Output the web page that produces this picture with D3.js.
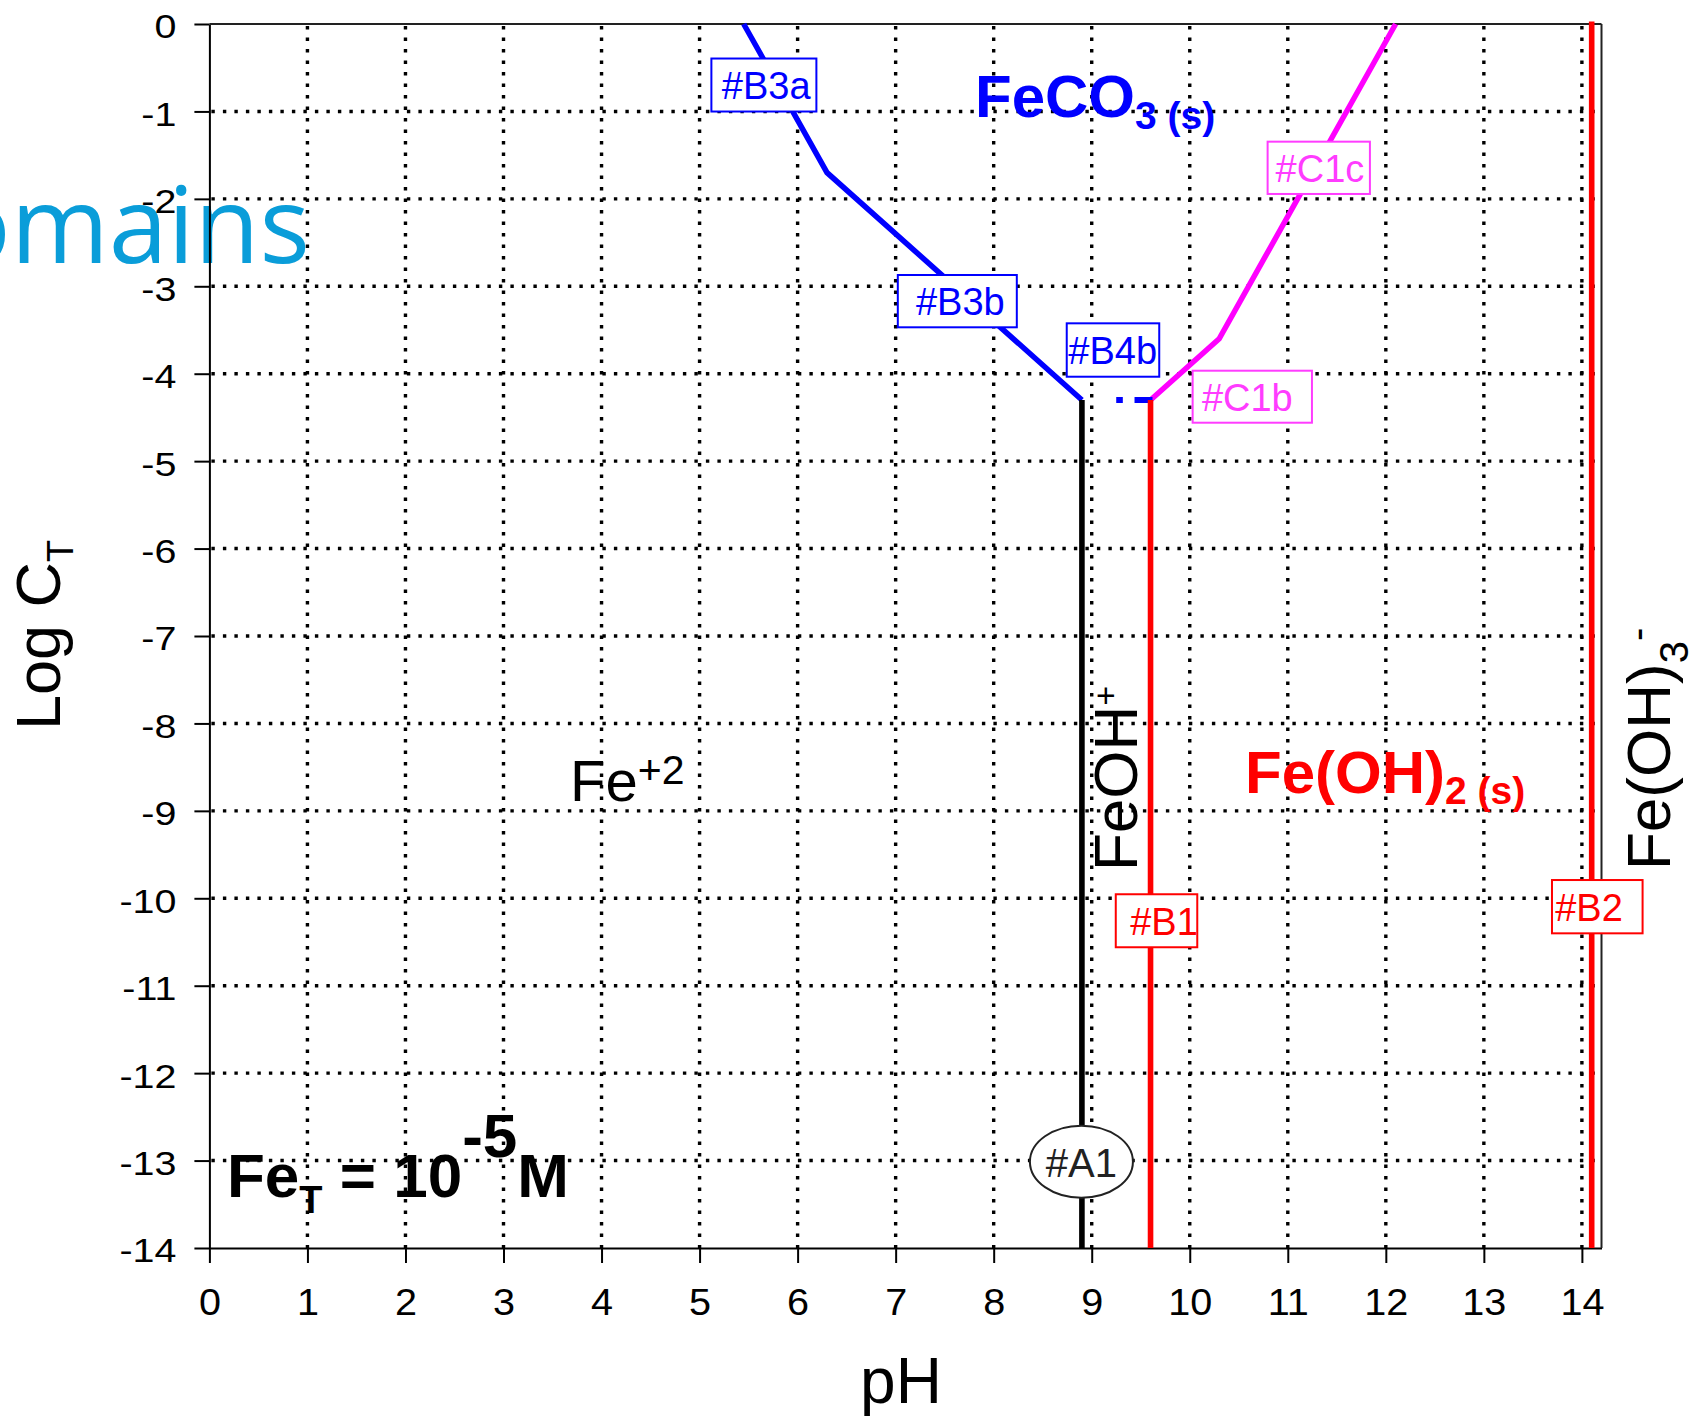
<!DOCTYPE html>
<html>
<head>
<meta charset="utf-8">
<script src="https://cdn.jsdelivr.net/npm/d3@7"></script>
<style>
  html, body { margin: 0; padding: 0; background: #fff; }
  svg { display: block; }
  text { font-family: "Liberation Sans", Arial, Helvetica, sans-serif; }
</style>
</head>
<body>
<svg id="chart" width="1695" height="1417"></svg>
<script>
// ---- axis ticks ----
const phTicks = d3.range(0, 15);          // 0 … 14
const logTicks = d3.range(-14, 1);        // -14 … 0

// ---- boundary lines (pH, log C_T) ----
// FeCO3(s) against Fe+2 / FeOH+  (#B3a, #B3b)
const carbonatePH  = [5.45, 6.3, 8.9];
const carbonateLog = [0, -1.7, -4.3];
// FeCO3(s) against Fe(OH)2(s)  (#C1b, #C1c)
const hydroxidePH  = [9.6, 10.3, 12.1];
const hydroxideLog = [-4.3, -3.6, 0];
// #B4b short dashed segment
const b4bPH  = [9.25, 9.62];
const b4bLog = [-4.3, -4.3];
// vertical boundaries: #A1 (Fe+2/FeOH+), #B1, #B2
const verticalPH  = [8.9, 9.6, 14.1];
const verticalTop = [-4.3, -4.3, 0];

// ---- boundary tags (centre in pH, log C_T) ----
const tagNames = ["#B3a", "#B3b", "#B4b", "#C1c", "#C1b", "#B1", "#B2"];
const tagPH    = [5.656, 7.629, 9.217, 11.316, 10.638, 9.661, 14.157];
const tagLog   = [-0.698, -3.170, -3.729, -1.645, -4.263, -10.257, -10.096];
const a1PH = 8.895, a1Log = -13.013;

// ---------------------------------------------------------------
const svg = d3.select("#chart");
const x = d3.scaleLinear().domain([0, 14.2]).range([209.4, 1601.5]);
const y = d3.scaleLinear().domain([-14, 0]).range([1248, 24]);

// dotted grid
const grid = svg.append("g").attr("stroke", "#000")
  .attr("stroke-width", 3.4).attr("stroke-dasharray", "3.4 8.1");
grid.selectAll(".vg").data(phTicks.filter(d => d > 0)).join("line")
  .attr("x1", d => x(d)).attr("x2", d => x(d))
  .attr("y1", y(0) + 2).attr("y2", y(-14));
grid.selectAll(".hg").data(logTicks.filter(d => d > -14 && d < 0)).join("line")
  .attr("y1", d => y(d)).attr("y2", d => y(d))
  .attr("x1", x(0) + 2).attr("x2", x(14.2));

// big heading fragment at the left edge
svg.append("text")
  .attr("x", 310).attr("y", 263)
  .attr("text-anchor", "end")
  .style("font-family", "'Open Sans', 'Noto Sans', sans-serif")
  .style("font-size", "106px")
  .attr("fill", "#0a9dd9")
  .text("Domains");

// axes
const xAxis = d3.axisBottom(x).tickValues(phTicks).tickSize(15).tickSizeOuter(0)
  .tickFormat(d => String(d));
const gx = svg.append("g").attr("transform", `translate(0,${y(-14)})`).call(xAxis);
gx.selectAll("text")
  .attr("y", 67).attr("dy", null)
  .attr("transform", "scale(1.07,1)")
  .style("font-size", "37px").attr("fill", "#000");

const yAxis = d3.axisLeft(y).tickValues(logTicks).tickSize(15).tickSizeOuter(0)
  .tickFormat(d => String(d));
const gy = svg.append("g").attr("transform", `translate(${x(0)},0)`).call(yAxis);
gy.selectAll("text")
  .attr("x", 0).attr("dy", "0.41em")
  .attr("transform", "translate(-33,0) scale(1.16,1)")
  .style("font-size", "34px").attr("fill", "#000");

[gx, gy].forEach(g => {
  g.select(".domain").attr("stroke", "#000").attr("stroke-width", 2);
  g.selectAll(".tick line").attr("stroke", "#000").attr("stroke-width", 2);
  g.attr("font-family", null).attr("font-size", null);
});

// top and right frame
svg.append("line").attr("x1", x(0)).attr("x2", x(14.2)).attr("y1", y(0)).attr("y2", y(0))
  .attr("stroke", "#222").attr("stroke-width", 2);
svg.append("line").attr("x1", x(14.2)).attr("x2", x(14.2)).attr("y1", y(0)).attr("y2", y(-14))
  .attr("stroke", "#222").attr("stroke-width", 2);

// boundary lines
const line = d3.line().x(d => x(d[0])).y(d => y(d[1]));
svg.append("path").datum(d3.zip(carbonatePH, carbonateLog))
  .attr("d", line).attr("fill", "none").attr("stroke", "#0000ff").attr("stroke-width", 5.5);
svg.append("path").datum(d3.zip(hydroxidePH, hydroxideLog))
  .attr("d", line).attr("fill", "none").attr("stroke", "#ff00ff").attr("stroke-width", 5.5);
svg.append("path").datum(d3.zip(b4bPH, b4bLog))
  .attr("d", line).attr("fill", "none").attr("stroke", "#0000ff").attr("stroke-width", 6)
  .attr("stroke-dasharray", "6.6 11.7 20");

const vColors = ["#000000", "#ff0000", "#ff0000"];
svg.selectAll(".vb").data(d3.zip(verticalPH, verticalTop)).join("line")
  .attr("x1", d => x(d[0])).attr("x2", d => x(d[0]))
  .attr("y1", d => y(d[1]) - (d[1] === 0 ? 2.5 : 0)).attr("y2", y(-14))
  .attr("stroke", (d, i) => vColors[i]).attr("stroke-width", 5.6);

// boundary tags
const tagW  = [105, 119, 92.5, 102.3, 119.3, 81.5, 90.6];
const tagH  = [53, 52.3, 53.4, 52.3, 52, 53, 53.3];
const tagDx = [2.3, 3, -0.3, 1.2, -5, 7.5, -8.3];
const tagColor = ["#0000ff", "#0000ff", "#0000ff", "#ff3cff", "#ff3cff", "#ff0000", "#ff0000"];
const tags = svg.selectAll(".tag").data(tagNames).join("g")
  .attr("transform", (d, i) => `translate(${x(tagPH[i])},${y(tagLog[i])})`);
tags.append("rect")
  .attr("x", (d, i) => -tagW[i] / 2).attr("y", (d, i) => -tagH[i] / 2)
  .attr("width", (d, i) => tagW[i]).attr("height", (d, i) => tagH[i])
  .attr("fill", "#fff").attr("stroke", (d, i) => tagColor[i]).attr("stroke-width", 2);
tags.append("text")
  .attr("x", (d, i) => tagDx[i]).attr("y", 14)
  .attr("text-anchor", "middle").style("font-size", "38px")
  .attr("fill", (d, i) => tagColor[i]).text(d => d);

const a1 = svg.append("g").attr("transform", `translate(${x(a1PH)},${y(a1Log)})`);
a1.append("ellipse").attr("rx", 51.5).attr("ry", 36)
  .attr("fill", "#fff").attr("stroke", "#222").attr("stroke-width", 2);
a1.append("text").attr("y", 15).attr("text-anchor", "middle")
  .style("font-size", "40px").attr("fill", "#222").text("#A1");

// species labels
const fe2 = svg.append("text").attr("x", 570).attr("y", 800.7)
  .style("font-size", "58px").attr("fill", "#000");
fe2.append("tspan").text("Fe");
fe2.append("tspan").attr("dy", -17).style("font-size", "41px").text("+2");

const feco3 = svg.append("text").attr("x", 975).attr("y", 116.7)
  .style("font-size", "60px").style("font-weight", "bold").attr("fill", "#0000ff");
feco3.append("tspan").text("FeCO");
feco3.append("tspan").attr("dy", 12).style("font-size", "39px").text("3 (s)");

const feoh2 = svg.append("text").attr("x", 1245).attr("y", 792.7)
  .style("font-size", "60px").style("font-weight", "bold").attr("fill", "#ff0000");
feoh2.append("tspan").text("Fe(OH)");
feoh2.append("tspan").attr("dy", 11).style("font-size", "39px").text("2 (s)");

const feoh = svg.append("text").attr("transform", "translate(1137,871) rotate(-90)")
  .style("font-size", "62px").attr("fill", "#000");
feoh.append("tspan").text("FeOH");
feoh.append("tspan").attr("dy", -20).style("font-size", "34px").text("+");

const feoh3 = svg.append("text").attr("transform", "translate(1670,870) rotate(-90)")
  .style("font-size", "62px").attr("fill", "#000");
feoh3.append("tspan").text("Fe(OH)");
feoh3.append("tspan").attr("dy", 18).style("font-size", "40px").text("3");
feoh3.append("tspan").attr("dy", -36.7).style("font-size", "40px").text("-");

const feT = svg.append("text").attr("x", 227).attr("y", 1196.7)
  .style("font-size", "62px").style("font-weight", "bold").attr("fill", "#000");
feT.append("tspan").text("Fe");
feT.append("tspan").attr("dy", 16.6).style("font-size", "38px").text("T");
feT.append("tspan").attr("dy", -16.6).text(" = 10");
feT.append("tspan").attr("dy", -40).text("-5");
feT.append("tspan").attr("dy", 40).text("M");

// axis titles
svg.append("text").attr("x", 901).attr("y", 1403).attr("text-anchor", "middle")
  .style("font-size", "64px").attr("fill", "#000").text("pH");
const yTitle = svg.append("text").attr("transform", "translate(60,730) rotate(-90)")
  .style("font-size", "63px").attr("fill", "#000");
yTitle.append("tspan").text("Log C");
yTitle.append("tspan").attr("dy", 13).style("font-size", "36px").text("T");
</script>
</body>
</html>
